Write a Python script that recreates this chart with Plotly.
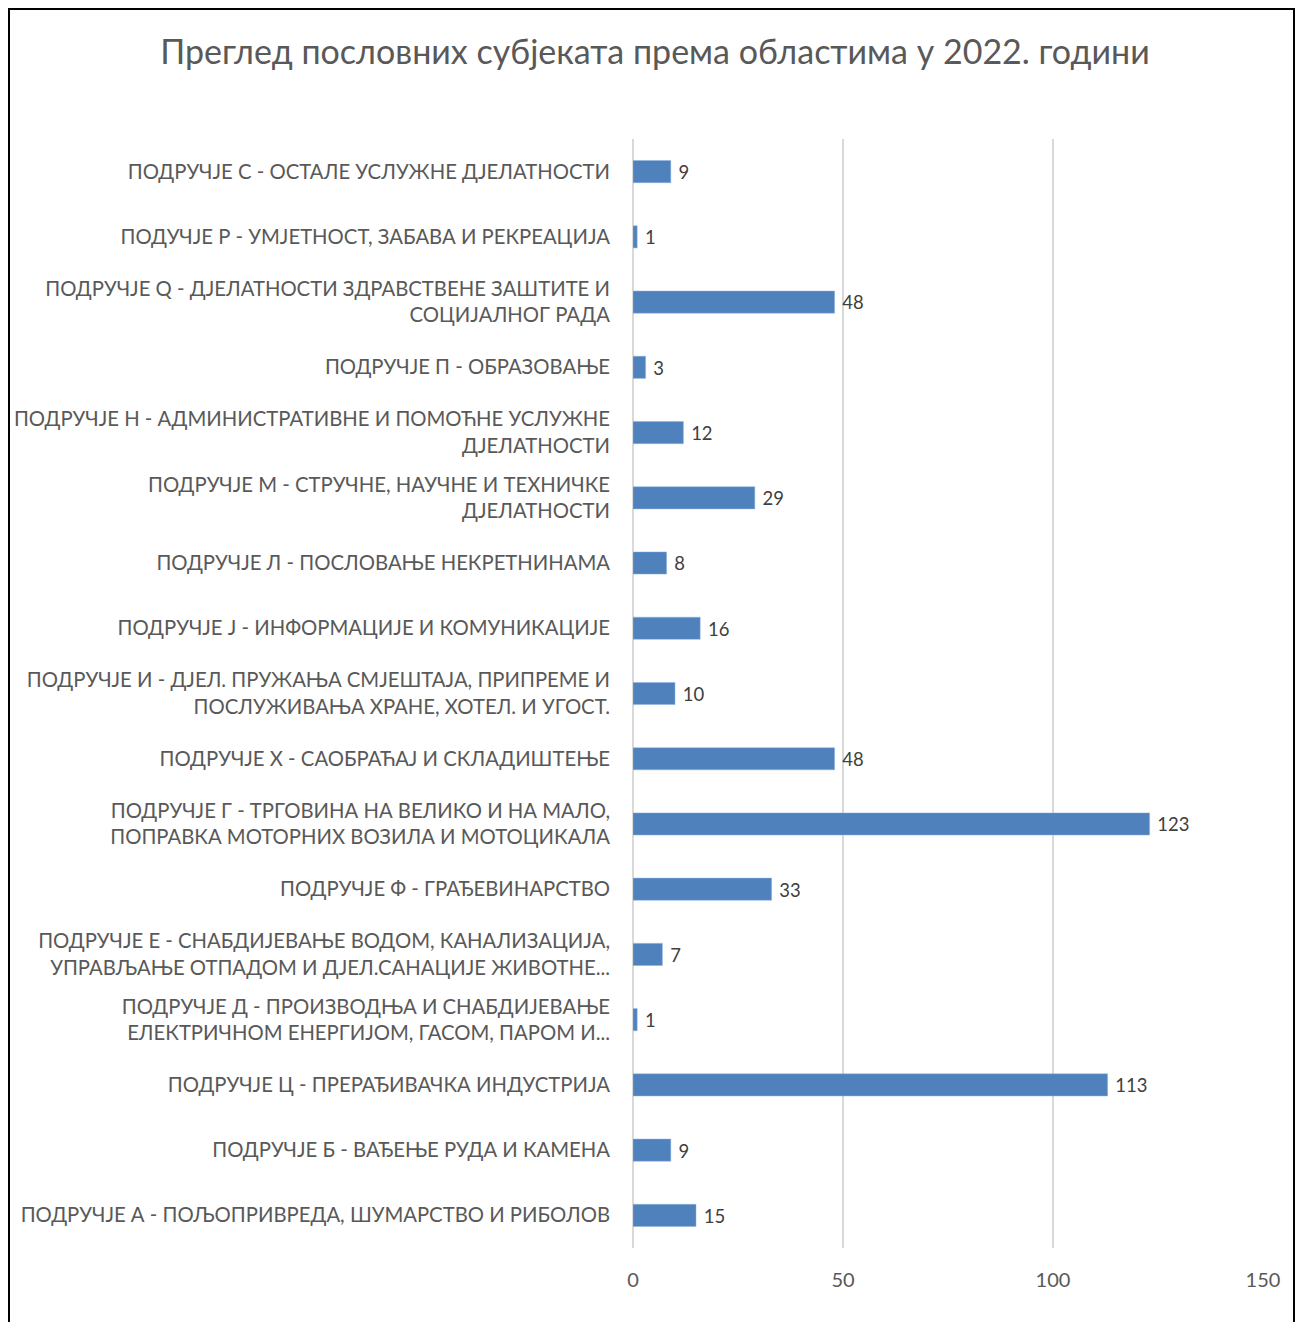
import plotly.graph_objects as go

# Categories listed bottom to top
categories = [
    "ПОДРУЧЈЕ А - ПОЉОПРИВРЕДА, ШУМАРСТВО И РИБОЛОВ",
    "ПОДРУЧЈЕ Б - ВАЂЕЊЕ РУДА И КАМЕНА",
    "ПОДРУЧЈЕ Ц - ПРЕРАЂИВАЧКА ИНДУСТРИЈА",
    "ПОДРУЧЈЕ Д - ПРОИЗВОДЊА И СНАБДИЈЕВАЊЕ<br>ЕЛЕКТРИЧНОМ ЕНЕРГИЈОМ, ГАСОМ, ПАРОМ И...",
    "ПОДРУЧЈЕ Е - СНАБДИЈЕВАЊЕ ВОДОМ, КАНАЛИЗАЦИЈА,<br>УПРАВЉАЊЕ ОТПАДОМ И ДЈЕЛ.САНАЦИЈЕ ЖИВОТНЕ...",
    "ПОДРУЧЈЕ Ф - ГРАЂЕВИНАРСТВО",
    "ПОДРУЧЈЕ Г - ТРГОВИНА НА ВЕЛИКО И НА МАЛО,<br>ПОПРАВКА МОТОРНИХ ВОЗИЛА И МОТОЦИКАЛА",
    "ПОДРУЧЈЕ Х - САОБРАЋАЈ И СКЛАДИШТЕЊЕ",
    "ПОДРУЧЈЕ И - ДЈЕЛ. ПРУЖАЊА СМЈЕШТАЈА, ПРИПРЕМЕ И<br>ПОСЛУЖИВАЊА ХРАНЕ, ХОТЕЛ. И УГОСТ.",
    "ПОДРУЧЈЕ Ј - ИНФОРМАЦИЈЕ И КОМУНИКАЦИЈЕ",
    "ПОДРУЧЈЕ Л - ПОСЛОВАЊЕ НЕКРЕТНИНАМА",
    "ПОДРУЧЈЕ М - СТРУЧНЕ, НАУЧНЕ И ТЕХНИЧКЕ<br>ДЈЕЛАТНОСТИ",
    "ПОДРУЧЈЕ Н - АДМИНИСТРАТИВНЕ И ПОМОЋНЕ УСЛУЖНЕ<br>ДЈЕЛАТНОСТИ",
    "ПОДРУЧЈЕ П - ОБРАЗОВАЊЕ",
    "ПОДРУЧЈЕ Q - ДЈЕЛАТНОСТИ ЗДРАВСТВЕНЕ ЗАШТИТЕ И<br>СОЦИЈАЛНОГ РАДА",
    "ПОДУЧЈЕ Р - УМЈЕТНОСТ, ЗАБАВА И РЕКРЕАЦИЈА",
    "ПОДРУЧЈЕ С - ОСТАЛЕ УСЛУЖНЕ ДЈЕЛАТНОСТИ",
]
values = [15, 9, 113, 1, 7, 33, 123, 48, 10, 16, 8, 29, 12, 3, 48, 1, 9]
x_ticks = [0, 50, 100, 150]

title_text = "Преглед пословних субјеката према областима у 2022. години"

FONT = "Lato"
TEXT = "#595959"

# Page has an 8px body margin; figure sized to fit window
W, H = 1295, 1314
L, R, T, B = 625, 40, 131, 74
PW = W - L - R
PH = H - T - B

fig = go.Figure(
    go.Bar(
        x=values,
        y=categories,
        orientation="h",
        marker=dict(color="#4F81BD", line=dict(color="#8EB4E3", width=0.5)),
        width=0.34,
        texttemplate="\u00a0%{x}",
        textposition="outside",
        textfont=dict(family=FONT, size=20, color="#404040"),
        cliponaxis=False,
    )
)

fig.update_layout(
    width=W,
    height=H,
    margin=dict(l=L, r=R, t=T, b=B, autoexpand=False),
    paper_bgcolor="white",
    plot_bgcolor="white",
    showlegend=False,
    title=dict(
        text=title_text,
        x=(655 - 8) / W, xref="container", xanchor="center",
        y=1 - (52 - 8) / H, yref="container", yanchor="middle",
        font=dict(family=FONT, size=34, color=TEXT),
    ),
    font=dict(family=FONT, color=TEXT),
    xaxis=dict(
        range=[0, 150],
        tickvals=x_ticks,
        showgrid=True,
        gridcolor="#D9D9D9",
        gridwidth=2,
        zeroline=True,
        zerolinecolor="#D9D9D9",
        zerolinewidth=2,
        showline=False,
        ticks="",
        ticklabelstandoff=18,
        automargin=False,
        tickfont=dict(family=FONT, size=20, color=TEXT),
    ),
    yaxis=dict(
        categoryorder="array",
        categoryarray=categories,
        showgrid=False,
        showline=False,
        zeroline=False,
        ticks="",
        ticklabelstandoff=22,
        automargin=False,
        tickfont=dict(family=FONT, size=20.3, color=TEXT),
    ),
    shapes=[
        dict(
            type="rect",
            xref="paper", yref="paper",
            x0=(1 - L) / PW, x1=(1286 - L) / PW,
            y0=-(B + 10) / PH, y1=(PH + T - 1) / PH,
            line=dict(color="black", width=2),
            fillcolor="rgba(0,0,0,0)",
            layer="above",
        )
    ],
)

fig.write_html("out.html")
